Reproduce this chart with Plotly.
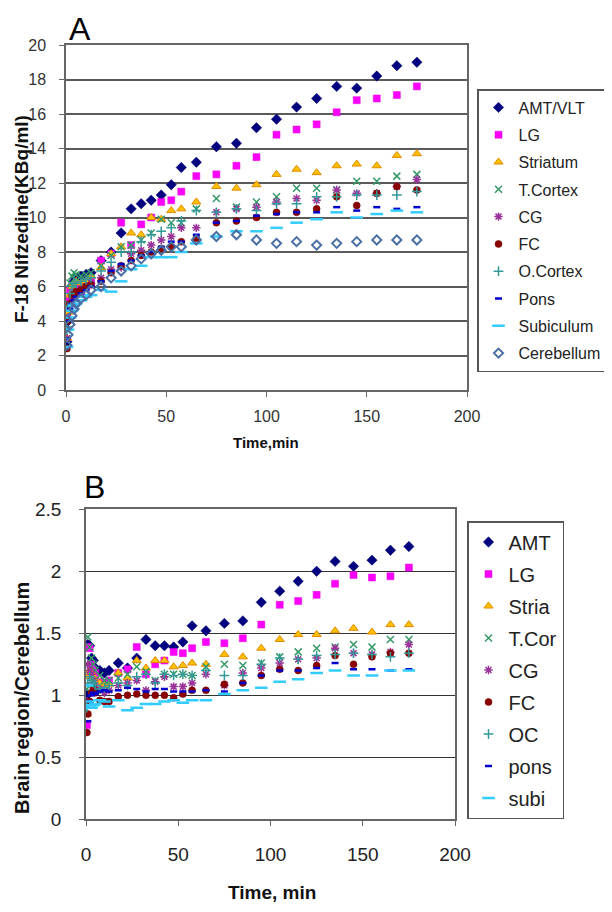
import plotly.graph_objects as go

# ---------------- data ----------------
time_min = [0.5, 1, 2, 3, 4, 5, 7.5, 10, 12.5, 17.5, 22.5, 27.5, 32.5, 37.5, 42.5,
            47.5, 52.5, 57.5, 65, 75, 85, 95, 105, 115, 125, 135, 145, 155, 165, 175]

# Panel A: F-18 Nifedipine (KBq/ml)
a_amt = [2.8, 4.0, 5.3, 6.0, 6.3, 6.5, 6.6, 6.7, 6.8, 7.5, 8.0, 9.1, 10.5, 10.8, 11.0,
         11.3, 11.9, 12.9, 13.2, 14.1, 14.3, 15.2, 15.7, 16.4, 16.9, 17.6, 17.5, 18.2, 18.8, 19.0]
a_lg = [4.2, 5.2, 5.8, 6.0, 6.0, 5.9, 5.7, 6.0, 6.3, 7.5, 7.9, 9.7, 8.4, 9.6, 10.0,
        10.9, 11.0, 11.5, 12.4, 12.5, 13.0, 13.5, 14.8, 15.1, 15.4, 16.1, 16.8, 16.9, 17.1, 17.6]
a_striatum = [3.0, 4.5, 5.5, 6.0, 6.2, 6.3, 6.2, 6.3, 6.6, 7.1, 7.9, 8.3, 9.1, 9.0, 10.0,
              9.9, 10.4, 10.5, 10.9, 11.8, 11.7, 11.9, 12.5, 12.8, 12.6, 13.0, 13.1, 13.0, 13.6, 13.7]
a_tcortex = [3.5, 5.0, 6.2, 6.6, 6.8, 6.7, 6.6, 6.7, 6.8, 7.2, 7.8, 8.3, 8.4, 8.7, 9.1,
             9.9, 9.7, 9.7, 10.5, 11.1, 10.6, 10.9, 11.2, 11.7, 11.7, 11.6, 12.1, 12.1, 12.4, 12.5]
a_cg = [3.0, 4.2, 5.0, 5.3, 5.5, 5.7, 5.9, 6.0, 6.2, 6.5, 7.0, 7.1, 7.9, 8.1, 8.4,
        8.7, 8.9, 9.4, 9.4, 10.3, 10.5, 10.6, 10.9, 11.1, 11.0, 11.6, 11.4, 11.4, 11.8, 12.2]
a_fc = [2.4, 4.0, 5.0, 5.5, 5.6, 5.7, 5.8, 6.0, 6.1, 6.3, 6.8, 7.2, 7.5, 7.8, 8.0,
        8.2, 8.3, 8.6, 8.8, 9.7, 9.8, 10.0, 10.3, 10.3, 10.5, 11.2, 10.7, 11.4, 11.8, 11.6]
a_ocortex = [3.5, 4.8, 5.6, 6.0, 6.2, 6.2, 6.3, 6.4, 6.5, 6.9, 7.4, 8.0, 8.0, 8.6, 9.0,
             9.2, 9.4, 9.8, 10.4, 10.3, 10.5, 10.4, 10.8, 10.8, 11.2, 11.2, 11.3, 11.3, 11.3, 11.5]
a_pons = [3.0, 4.0, 4.7, 5.0, 5.2, 5.4, 5.6, 5.8, 6.0, 6.3, 6.9, 7.3, 7.5, 7.8, 8.0,
          8.3, 8.6, 8.6, 9.0, 9.7, 9.8, 10.1, 10.2, 10.3, 10.3, 10.6, 10.4, 10.6, 10.5, 10.6]
a_subiculum = [2.5, 3.5, 4.2, 4.6, 4.9, 5.0, 5.2, 5.4, 5.5, 5.8, 5.7, 6.3, 7.0, 7.2, 7.7,
               7.7, 7.7, 8.0, 8.5, 8.9, 9.2, 9.2, 9.4, 9.7, 9.9, 10.3, 10.0, 10.2, 10.4, 10.3]
a_cerebellum = [2.6, 3.2, 3.8, 4.3, 4.7, 5.0, 5.3, 5.5, 5.8, 6.0, 6.5, 6.9, 7.2, 7.6, 7.9,
                8.1, 8.3, 8.3, 8.7, 8.9, 9.0, 8.7, 8.5, 8.6, 8.4, 8.5, 8.6, 8.7, 8.7, 8.7]

# Panel B: brain region / cerebellum ratio
b_amt = [1.0, 1.41, 1.40, 1.30, 1.28, 1.22, 1.20, 1.18, 1.20, 1.26, 1.22, 1.30, 1.45, 1.40, 1.40,
         1.39, 1.43, 1.56, 1.52, 1.58, 1.60, 1.75, 1.84, 1.92, 2.00, 2.08, 2.04, 2.09, 2.17, 2.20]
b_lg = [0.76, 1.39, 1.38, 1.25, 1.20, 1.18, 1.11, 1.10, 1.12, 1.18, 1.21, 1.39, 1.17, 1.25, 1.28,
        1.35, 1.34, 1.38, 1.43, 1.42, 1.46, 1.57, 1.73, 1.76, 1.81, 1.90, 1.97, 1.95, 1.96, 2.03]
b_stria = [0.85, 1.15, 1.20, 1.18, 1.15, 1.12, 1.10, 1.08, 1.09, 1.18, 1.14, 1.28, 1.22, 1.28, 1.28,
           1.23, 1.24, 1.26, 1.25, 1.33, 1.31, 1.38, 1.45, 1.49, 1.49, 1.52, 1.54, 1.51, 1.57, 1.57]
b_tcor = [1.05, 1.47, 1.39, 1.30, 1.25, 1.20, 1.16, 1.12, 1.12, 1.14, 1.17, 1.23, 1.19, 1.12, 1.17,
          1.17, 1.17, 1.16, 1.23, 1.25, 1.24, 1.26, 1.31, 1.35, 1.38, 1.39, 1.41, 1.39, 1.45, 1.45]
b_cg = [0.95, 1.25, 1.20, 1.17, 1.12, 1.08, 1.05, 1.02, 1.04, 1.08, 1.10, 1.12, 1.04, 1.11, 1.15,
        1.07, 1.07, 1.10, 1.17, 1.08, 1.18, 1.22, 1.26, 1.29, 1.30, 1.38, 1.34, 1.33, 1.35, 1.41]
b_fc = [0.70, 0.85, 0.95, 1.02, 1.05, 1.02, 0.96, 0.95, 0.95, 0.99, 1.00, 1.01, 1.00, 1.00, 1.00,
        0.98, 1.01, 1.04, 1.04, 1.09, 1.10, 1.16, 1.21, 1.20, 1.24, 1.32, 1.25, 1.31, 1.34, 1.34]
b_oc = [0.90, 1.10, 1.15, 1.12, 1.10, 1.08, 1.05, 1.06, 1.08, 1.10, 1.08, 1.15, 1.17, 1.10, 1.17,
        1.16, 1.17, 1.16, 1.20, 1.16, 1.16, 1.25, 1.30, 1.29, 1.32, 1.33, 1.34, 1.33, 1.31, 1.34]
b_pons = [0.90, 0.79, 0.95, 1.00, 1.02, 1.01, 1.03, 1.04, 1.03, 1.04, 1.06, 1.05, 1.03, 1.05, 1.05,
          1.03, 1.03, 1.03, 1.04, 1.03, 1.10, 1.16, 1.20, 1.20, 1.22, 1.26, 1.21, 1.21, 1.20, 1.21]
b_subi = [1.08, 0.95, 0.92, 0.90, 0.92, 0.93, 0.96, 0.95, 0.91, 0.96, 0.88, 0.90, 0.93, 0.93, 0.95,
          0.96, 0.94, 0.96, 0.96, 1.01, 1.04, 1.06, 1.11, 1.13, 1.18, 1.20, 1.16, 1.16, 1.20, 1.20]

names_a = ["AMT/VLT", "LG", "Striatum", "T.Cortex", "CG", "FC", "O.Cortex", "Pons",
           "Subiculum", "Cerebellum"]
names_b = ["AMT", "LG", "Stria", "T.Cor", "CG", "FC", "OC", "pons", "subi"]
series_a = [a_amt, a_lg, a_striatum, a_tcortex, a_cg, a_fc, a_ocortex, a_pons,
            a_subiculum, a_cerebellum]
series_b = [b_amt, b_lg, b_stria, b_tcor, b_cg, b_fc, b_oc, b_pons, b_subi]

x_ticks = [0, 50, 100, 150, 200]

# ---------------- styles ----------------
styles = [
    dict(symbol="diamond", color="#000080", size=8, line=dict(color="#000060", width=0.5)),
    dict(symbol="square", color="#FF00FF", size=7, line=dict(color="#E000E0", width=0.5)),
    dict(symbol="triangle-up", color="#FFC000", size=8, line=dict(color="#E08A00", width=1)),
    dict(symbol="x-thin-open", color="#339966", size=7, line=dict(color="#339966", width=1.5)),
    dict(symbol="asterisk-open", color="#993399", size=7, line=dict(color="#993399", width=1.5)),
    dict(symbol="circle", color="#8B0000", size=7, line=dict(color="#700000", width=0.5)),
    dict(symbol="cross-thin-open", color="#339999", size=7, line=dict(color="#339999", width=1.5)),
    dict(symbol="line-ew-open", color="#0000CC", size=5, line=dict(color="#0000CC", width=2.5)),
    dict(symbol="line-ew-open", color="#33CCFF", size=9, line=dict(color="#33CCFF", width=2.5)),
    dict(symbol="diamond-open", color="#4A6FA5", size=7, line=dict(color="#4A6FA5", width=2)),
]

fig = go.Figure()
for name, ys, st in zip(names_a, series_a, styles):
    fig.add_trace(go.Scatter(x=time_min, y=ys, mode="markers", name=name,
                             marker=st, xaxis="x", yaxis="y", legend="legend",
                             legendgroup="a_" + name))
for name, ys, st in zip(names_b, series_b, styles):
    fig.add_trace(go.Scatter(x=time_min, y=ys, mode="markers", name=name,
                             marker=st, xaxis="x2", yaxis="y2", legend="legend2",
                             legendgroup="b_" + name))

# page is offset by the browser's default 8px body margin
OFF = 8
W, H = 612 - OFF, 912 - OFF
def px(x):
    return (x - OFF) / W
def py(y):
    return 1 - (y - OFF) / H

font_family = "Liberation Sans, Arial, sans-serif"
axis_common = dict(showline=True, mirror=True, linecolor="#666666", linewidth=1.5,
                   ticks="outside", ticklen=5, tickcolor="#666666", zeroline=False,
                   automargin=False)

fig.update_layout(
    width=W, height=H,
    margin=dict(l=0, r=0, t=0, b=0, pad=0, autoexpand=False),
    paper_bgcolor="white", plot_bgcolor="white",
    font=dict(family=font_family, color="#222222"),
    xaxis=dict(domain=[px(66), px(467)], range=[0, 200], tickvals=x_ticks,
               showgrid=False, anchor="y", ticklabelstandoff=6,
               tickfont=dict(size=16, color="#333333"),
               **axis_common),
    yaxis=dict(domain=[py(390), py(45)], range=[0, 20], dtick=2,
               showgrid=True, gridcolor="#5a5a5a", gridwidth=2, anchor="x",
               ticklabelstandoff=10,
               tickfont=dict(size=16, color="#333333"),
               **axis_common),
    xaxis2=dict(domain=[px(86), px(455)], range=[0, 200], tickvals=x_ticks,
                showgrid=False, anchor="y2", ticklabelstandoff=12,
                tickfont=dict(size=19, color="#222222"),
                **axis_common),
    yaxis2=dict(domain=[py(819.3), py(509.3)], range=[0, 2.5], dtick=0.5,
                showgrid=True, gridcolor="#333333", gridwidth=1.3, anchor="x2",
                ticklabelstandoff=14,
                tickfont=dict(size=19, color="#222222"),
                **axis_common),
    legend=dict(x=px(477), y=py(89), xanchor="left", yanchor="top",
                bordercolor="#555555", borderwidth=1.5, bgcolor="white",
                tracegroupgap=3.5,
                font=dict(size=16, color="#222222")),
    legend2=dict(x=px(467), y=py(521), xanchor="left", yanchor="top",
                 bordercolor="#555555", borderwidth=1.5, bgcolor="white",
                 tracegroupgap=3,
                 font=dict(size=20, color="#222222")),
    showlegend=True,
    annotations=[
        dict(text="A", x=px(80), y=py(9), xref="paper", yref="paper", showarrow=False,
             font=dict(size=32, color="black"), xanchor="center", yanchor="top"),
        dict(text="B", x=px(94), y=py(467), xref="paper", yref="paper", showarrow=False,
             font=dict(size=32, color="black"), xanchor="center", yanchor="top"),
        dict(text="<b>Time,min</b>", x=px(266), y=py(443), xref="paper", yref="paper",
             showarrow=False, font=dict(size=15, color="#111111"),
             xanchor="center", yanchor="middle"),
        dict(text="<b>F-18 Nifzedine(KBq/ml)</b>", x=px(21), y=py(219), xref="paper",
             yref="paper", showarrow=False, textangle=-90,
             font=dict(size=19, color="#111111"), xanchor="center", yanchor="middle"),
        dict(text="<b>Time, min</b>", x=px(272), y=py(892), xref="paper", yref="paper",
             showarrow=False, font=dict(size=19, color="#111111"),
             xanchor="center", yanchor="middle"),
        dict(text="<b>Brain region/Cerebellum</b>", x=px(22), y=py(698), xref="paper",
             yref="paper", showarrow=False, textangle=-90,
             font=dict(size=20, color="#111111"), xanchor="center", yanchor="middle"),
    ],
)

fig.write_html("out.html")
